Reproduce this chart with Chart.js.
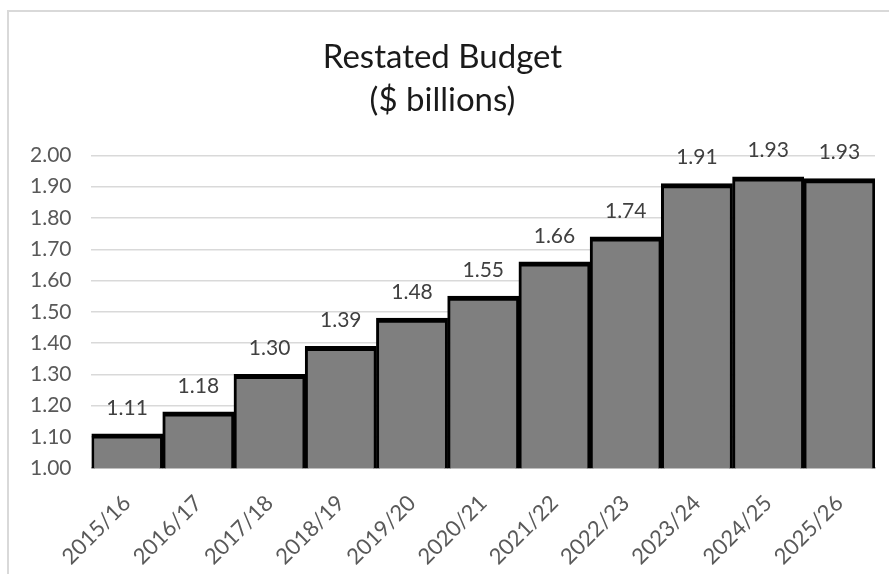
<!DOCTYPE html>
<html>
<head>
<meta charset="utf-8">
<script src="https://cdn.jsdelivr.net/npm/chart.js@4.4.1/dist/chart.umd.min.js"></script>
<style>
  html, body { margin: 0; padding: 0; background: #fff; overflow: hidden; width: 889px; height: 574px; }
  #frame { position: absolute; left: 7px; top: 10px; width: 900px; height: 600px; border-left: 2px solid #d9d9d9; border-top: 2px solid #d9d9d9; }
  #wrap { position: absolute; left: 9px; top: 12px; width: 892px; height: 580px; }
</style>
</head>
<body>
<div id="frame"></div>
<div id="wrap"><canvas id="c"></canvas></div>
<script>
const categories = ["2015/16","2016/17","2017/18","2018/19","2019/20","2020/21","2021/22","2022/23","2023/24","2024/25","2025/26"];
const budget = [1.11, 1.18, 1.30, 1.39, 1.48, 1.55, 1.66, 1.74, 1.91, 1.932, 1.926];
const titleLines = ["Restated Budget", "($ billions)"];
const yMin = 1.00, yMax = 2.00, yStep = 0.10;

const FONT = "Lato, 'Open Sans', sans-serif";

const labelPlugin = {
  id: 'barLabels',
  afterDatasetsDraw(chart) {
    const ctx = chart.ctx;
    const meta = chart.getDatasetMeta(0);
    ctx.save();
    ctx.font = "21px " + FONT;
    ctx.fillStyle = "#404040";
    ctx.textAlign = "center";
    ctx.textBaseline = "middle";
    meta.data.forEach((bar, i) => {
      ctx.fillText(budget[i].toFixed(2), bar.x, bar.y - 26);
    });
    ctx.restore();
  }
};

new Chart(document.getElementById('c'), {
  type: 'bar',
  data: {
    labels: categories,
    datasets: [{
      data: budget,
      backgroundColor: '#7f7f7f',
      borderColor: '#000000',
      borderWidth: { top: 5, left: 3, right: 3, bottom: 0 },
      borderSkipped: 'bottom',
      barPercentage: 1.0,
      categoryPercentage: 1.0
    }]
  },
  options: {
    responsive: true,
    maintainAspectRatio: false,
    animation: false,
    layout: { padding: { left: 1, right: 26, top: 18, bottom: 0 } },
    plugins: {
      legend: { display: false },
      tooltip: { enabled: false },
      title: {
        display: true,
        text: titleLines,
        color: '#1a1a1a',
        font: { family: FONT, size: 33, weight: 'normal', lineHeight: 1.31 },
        padding: { top: 6, bottom: 33 }
      }
    },
    scales: {
      x: {
        grid: { display: false, drawTicks: false },
        border: { display: true, color: '#bfbfbf', width: 1.5 },
        ticks: {
          color: '#595959',
          font: { family: FONT, size: 22 },
          minRotation: 45,
          maxRotation: 45,
          padding: 22
        }
      },
      y: {
        min: yMin,
        max: yMax,
        grid: { color: '#d9d9d9', lineWidth: 1.5, drawTicks: false },
        border: { display: false },
        ticks: {
          stepSize: yStep,
          color: '#595959',
          font: { family: FONT, size: 21 },
          padding: 20,
          callback: v => Number(v).toFixed(2)
        }
      }
    }
  },
  plugins: [labelPlugin]
});
</script>
</body>
</html>
